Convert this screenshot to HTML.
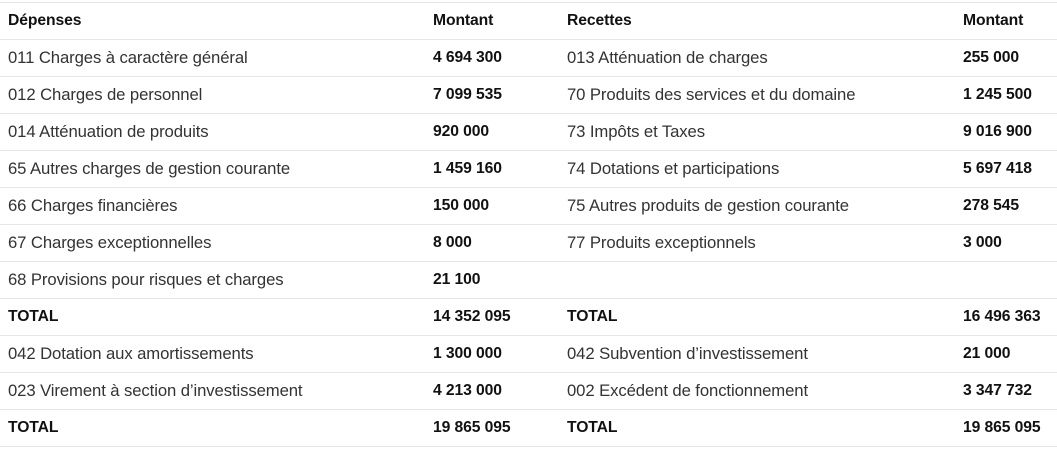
<!DOCTYPE html>
<html><head><meta charset="utf-8"><style>
body{margin:0;width:1057px;height:450px;background:#fff;overflow:hidden;font-family:"Liberation Sans",sans-serif;}
.row{position:absolute;left:0;width:1057px;height:37px;border-bottom:1px solid #e6e6e6;box-sizing:border-box;}
.c{position:absolute;top:0;line-height:36px;font-size:16.7px;color:#333;white-space:nowrap;letter-spacing:-0.1px}
.b{font-weight:bold;color:#111;font-size:15.7px}
</style></head><body>
<div id="t"></div>
<script>
const rows=[
["Dépenses","Montant","Recettes","Montant",1],
["011 Charges à caractère général","4 694 300","013 Atténuation de charges","255 000",0],
["012 Charges de personnel","7 099 535","70 Produits des services et du domaine","1 245 500",0],
["014 Atténuation de produits","920 000","73 Impôts et Taxes","9 016 900",0],
["65 Autres charges de gestion courante","1 459 160","74 Dotations et participations","5 697 418",0],
["66 Charges financières","150 000","75 Autres produits de gestion courante","278 545",0],
["67 Charges exceptionnelles","8 000","77 Produits exceptionnels","3 000",0],
["68 Provisions pour risques et charges","21 100","","",0],
["TOTAL","14 352 095","TOTAL","16 496 363",1],
["042 Dotation aux amortissements","1 300 000","042 Subvention d’investissement","21 000",0],
["023 Virement à section d’investissement","4 213 000","002 Excédent de fonctionnement","3 347 732",0],
["TOTAL","19 865 095","TOTAL","19 865 095",1]];
const xs=[8,433,567,963];
const t=document.getElementById('t');
const top0=document.createElement('div');top0.style.cssText='position:absolute;left:0;top:2px;width:1057px;border-top:1px solid #e6e6e6';


t.appendChild(top0);
rows.forEach((r,i)=>{
 const d=document.createElement('div');d.className='row';d.style.top=(3+i*37)+'px';
 
 
 for(let k=0;k<4;k++){
  const c=document.createElement('div');
  c.className='c'+((r[4]||k%2==1)?' b':'');
  c.style.left=xs[k]+'px';c.textContent=r[k];
  
  
  d.appendChild(c);
 }
 t.appendChild(d);
});
</script>
</body></html>
